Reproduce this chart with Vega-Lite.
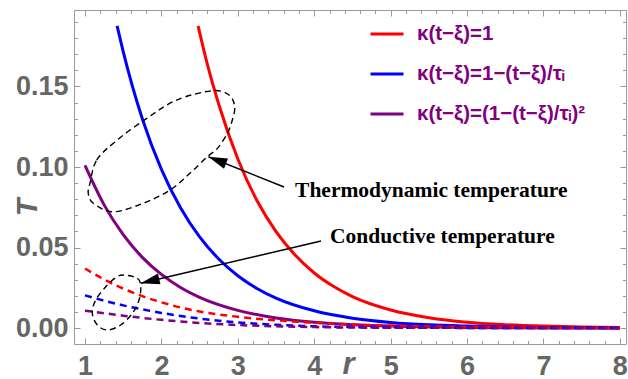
{
  "$schema": "https://vega.github.io/schema/vega-lite/v6.json",
  "width": 552,
  "height": 334,
  "autosize": {"type": "none"},
  "padding": {"left": 74, "top": 10, "right": 2, "bottom": 35},
  "background": "white",
  "config": {
    "view": {"stroke": "#9a9a9a", "strokeWidth": 1},
    "axis": {
      "domain": false, "grid": false,
      "labelFont": "Liberation Sans", "labelFontWeight": "bold", "labelFontSize": 27,
      "labelColor": "#666666", "tickColor": "#9a9a9a", "tickWidth": 1,
      "labelFlush": false, "labelOverlap": false, "labelBound": false,
      "titleColor": "#666666", "titleFont": "Liberation Sans", "titleFontWeight": "bold", "titleFontStyle": "italic"
    },
    "legend": {
      "orient": "none", "legendX": 295, "legendY": 6,
      "symbolType": "stroke", "symbolSize": 1089, "symbolStrokeWidth": 3,
      "labelFont": "Liberation Sans", "labelFontWeight": "bold", "labelFontSize": 20.5,
      "labelColor": "#800080", "labelOffset": 12, "rowPadding": 11, "padding": 0, "labelLimit": 400
    }
  },
  "datasets": {
    "solid": [
      {"s": "κ(t−ξ)=1", "x": 2.48, "y": 0.1876},
      {"s": "κ(t−ξ)=1", "x": 2.6, "y": 0.164},
      {"s": "κ(t−ξ)=1", "x": 2.75, "y": 0.139},
      {"s": "κ(t−ξ)=1", "x": 3.0, "y": 0.105},
      {"s": "κ(t−ξ)=1", "x": 3.25, "y": 0.0792},
      {"s": "κ(t−ξ)=1", "x": 3.5, "y": 0.0599},
      {"s": "κ(t−ξ)=1", "x": 3.75, "y": 0.0453},
      {"s": "κ(t−ξ)=1", "x": 4.0, "y": 0.0342},
      {"s": "κ(t−ξ)=1", "x": 4.25, "y": 0.0259},
      {"s": "κ(t−ξ)=1", "x": 4.5, "y": 0.0195},
      {"s": "κ(t−ξ)=1", "x": 5.0, "y": 0.0112},
      {"s": "κ(t−ξ)=1", "x": 5.5, "y": 0.0064},
      {"s": "κ(t−ξ)=1", "x": 6.0, "y": 0.0036},
      {"s": "κ(t−ξ)=1", "x": 6.5, "y": 0.0021},
      {"s": "κ(t−ξ)=1", "x": 7.0, "y": 0.0012},
      {"s": "κ(t−ξ)=1", "x": 7.5, "y": 0.0007},
      {"s": "κ(t−ξ)=1", "x": 8.0, "y": 0.0004},
      {"s": "κ(t−ξ)=1−(t−ξ)/τᵢ", "x": 1.42, "y": 0.1876},
      {"s": "κ(t−ξ)=1−(t−ξ)/τᵢ", "x": 1.5, "y": 0.1717},
      {"s": "κ(t−ξ)=1−(t−ξ)/τᵢ", "x": 1.75, "y": 0.130},
      {"s": "κ(t−ξ)=1−(t−ξ)/τᵢ", "x": 2.0, "y": 0.0985},
      {"s": "κ(t−ξ)=1−(t−ξ)/τᵢ", "x": 2.25, "y": 0.0747},
      {"s": "κ(t−ξ)=1−(t−ξ)/τᵢ", "x": 2.5, "y": 0.0566},
      {"s": "κ(t−ξ)=1−(t−ξ)/τᵢ", "x": 2.75, "y": 0.0429},
      {"s": "κ(t−ξ)=1−(t−ξ)/τᵢ", "x": 3.0, "y": 0.0325},
      {"s": "κ(t−ξ)=1−(t−ξ)/τᵢ", "x": 3.25, "y": 0.0246},
      {"s": "κ(t−ξ)=1−(t−ξ)/τᵢ", "x": 3.5, "y": 0.0186},
      {"s": "κ(t−ξ)=1−(t−ξ)/τᵢ", "x": 4.0, "y": 0.0107},
      {"s": "κ(t−ξ)=1−(t−ξ)/τᵢ", "x": 4.5, "y": 0.0061},
      {"s": "κ(t−ξ)=1−(t−ξ)/τᵢ", "x": 5.0, "y": 0.0035},
      {"s": "κ(t−ξ)=1−(t−ξ)/τᵢ", "x": 5.5, "y": 0.0020},
      {"s": "κ(t−ξ)=1−(t−ξ)/τᵢ", "x": 6.0, "y": 0.0012},
      {"s": "κ(t−ξ)=1−(t−ξ)/τᵢ", "x": 7.0, "y": 0.0004},
      {"s": "κ(t−ξ)=1−(t−ξ)/τᵢ", "x": 8.0, "y": 0.0001},
      {"s": "κ(t−ξ)=(1−(t−ξ)/τᵢ)²", "x": 1.0, "y": 0.101},
      {"s": "κ(t−ξ)=(1−(t−ξ)/τᵢ)²", "x": 1.25, "y": 0.0765},
      {"s": "κ(t−ξ)=(1−(t−ξ)/τᵢ)²", "x": 1.5, "y": 0.058},
      {"s": "κ(t−ξ)=(1−(t−ξ)/τᵢ)²", "x": 1.75, "y": 0.0439},
      {"s": "κ(t−ξ)=(1−(t−ξ)/τᵢ)²", "x": 2.0, "y": 0.0333},
      {"s": "κ(t−ξ)=(1−(t−ξ)/τᵢ)²", "x": 2.25, "y": 0.0252},
      {"s": "κ(t−ξ)=(1−(t−ξ)/τᵢ)²", "x": 2.5, "y": 0.0191},
      {"s": "κ(t−ξ)=(1−(t−ξ)/τᵢ)²", "x": 3.0, "y": 0.0110},
      {"s": "κ(t−ξ)=(1−(t−ξ)/τᵢ)²", "x": 3.5, "y": 0.0063},
      {"s": "κ(t−ξ)=(1−(t−ξ)/τᵢ)²", "x": 4.0, "y": 0.0036},
      {"s": "κ(t−ξ)=(1−(t−ξ)/τᵢ)²", "x": 4.5, "y": 0.0021},
      {"s": "κ(t−ξ)=(1−(t−ξ)/τᵢ)²", "x": 5.0, "y": 0.0012},
      {"s": "κ(t−ξ)=(1−(t−ξ)/τᵢ)²", "x": 6.0, "y": 0.0004},
      {"s": "κ(t−ξ)=(1−(t−ξ)/τᵢ)²", "x": 7.0, "y": 0.0001},
      {"s": "κ(t−ξ)=(1−(t−ξ)/τᵢ)²", "x": 8.0, "y": 0.0}
    ],
    "dashed": [
      {"s": "κ(t−ξ)=1", "x": 1.0, "y": 0.037},
      {"s": "κ(t−ξ)=1", "x": 1.25, "y": 0.0302},
      {"s": "κ(t−ξ)=1", "x": 1.5, "y": 0.0245},
      {"s": "κ(t−ξ)=1", "x": 1.75, "y": 0.0198},
      {"s": "κ(t−ξ)=1", "x": 2.0, "y": 0.0160},
      {"s": "κ(t−ξ)=1", "x": 2.25, "y": 0.0128},
      {"s": "κ(t−ξ)=1", "x": 2.5, "y": 0.0103},
      {"s": "κ(t−ξ)=1", "x": 3.0, "y": 0.0070},
      {"s": "κ(t−ξ)=1", "x": 3.5, "y": 0.0048},
      {"s": "κ(t−ξ)=1", "x": 4.0, "y": 0.0033},
      {"s": "κ(t−ξ)=1", "x": 4.5, "y": 0.0022},
      {"s": "κ(t−ξ)=1", "x": 5.0, "y": 0.0015},
      {"s": "κ(t−ξ)=1", "x": 5.5, "y": 0.0010},
      {"s": "κ(t−ξ)=1", "x": 6.0, "y": 0.0007},
      {"s": "κ(t−ξ)=1", "x": 7.0, "y": 0.0003},
      {"s": "κ(t−ξ)=1", "x": 8.0, "y": 0.0001},
      {"s": "κ(t−ξ)=1−(t−ξ)/τᵢ", "x": 1.0, "y": 0.0203},
      {"s": "κ(t−ξ)=1−(t−ξ)/τᵢ", "x": 1.25, "y": 0.0170},
      {"s": "κ(t−ξ)=1−(t−ξ)/τᵢ", "x": 1.5, "y": 0.0141},
      {"s": "κ(t−ξ)=1−(t−ξ)/τᵢ", "x": 1.75, "y": 0.0116},
      {"s": "κ(t−ξ)=1−(t−ξ)/τᵢ", "x": 2.0, "y": 0.0094},
      {"s": "κ(t−ξ)=1−(t−ξ)/τᵢ", "x": 2.25, "y": 0.0075},
      {"s": "κ(t−ξ)=1−(t−ξ)/τᵢ", "x": 2.5, "y": 0.0059},
      {"s": "κ(t−ξ)=1−(t−ξ)/τᵢ", "x": 3.0, "y": 0.0035},
      {"s": "κ(t−ξ)=1−(t−ξ)/τᵢ", "x": 3.5, "y": 0.0020},
      {"s": "κ(t−ξ)=1−(t−ξ)/τᵢ", "x": 4.0, "y": 0.0011},
      {"s": "κ(t−ξ)=1−(t−ξ)/τᵢ", "x": 4.5, "y": 0.0006},
      {"s": "κ(t−ξ)=1−(t−ξ)/τᵢ", "x": 5.0, "y": 0.0003},
      {"s": "κ(t−ξ)=1−(t−ξ)/τᵢ", "x": 6.0, "y": 0.0001},
      {"s": "κ(t−ξ)=1−(t−ξ)/τᵢ", "x": 7.0, "y": 0.0},
      {"s": "κ(t−ξ)=1−(t−ξ)/τᵢ", "x": 8.0, "y": 0.0},
      {"s": "κ(t−ξ)=(1−(t−ξ)/τᵢ)²", "x": 1.0, "y": 0.0108},
      {"s": "κ(t−ξ)=(1−(t−ξ)/τᵢ)²", "x": 1.25, "y": 0.0092},
      {"s": "κ(t−ξ)=(1−(t−ξ)/τᵢ)²", "x": 1.5, "y": 0.0077},
      {"s": "κ(t−ξ)=(1−(t−ξ)/τᵢ)²", "x": 1.75, "y": 0.0063},
      {"s": "κ(t−ξ)=(1−(t−ξ)/τᵢ)²", "x": 2.0, "y": 0.0051},
      {"s": "κ(t−ξ)=(1−(t−ξ)/τᵢ)²", "x": 2.5, "y": 0.0032},
      {"s": "κ(t−ξ)=(1−(t−ξ)/τᵢ)²", "x": 3.0, "y": 0.0019},
      {"s": "κ(t−ξ)=(1−(t−ξ)/τᵢ)²", "x": 3.5, "y": 0.0011},
      {"s": "κ(t−ξ)=(1−(t−ξ)/τᵢ)²", "x": 4.0, "y": 0.0006},
      {"s": "κ(t−ξ)=(1−(t−ξ)/τᵢ)²", "x": 5.0, "y": 0.0002},
      {"s": "κ(t−ξ)=(1−(t−ξ)/τᵢ)²", "x": 6.0, "y": 0.0001},
      {"s": "κ(t−ξ)=(1−(t−ξ)/τᵢ)²", "x": 7.0, "y": 0.0},
      {"s": "κ(t−ξ)=(1−(t−ξ)/τᵢ)²", "x": 8.0, "y": 0.0}
    ],
    "ellipses": [
      {"e": "big", "k": 1, "x": 1.065, "y": 0.0899},
      {"e": "big", "k": 2, "x": 1.153, "y": 0.1043},
      {"e": "big", "k": 3, "x": 1.415, "y": 0.1165},
      {"e": "big", "k": 4, "x": 1.808, "y": 0.1302},
      {"e": "big", "k": 5, "x": 2.2, "y": 0.1416},
      {"e": "big", "k": 6, "x": 2.666, "y": 0.1474},
      {"e": "big", "k": 7, "x": 2.885, "y": 0.1447},
      {"e": "big", "k": 8, "x": 2.959, "y": 0.1375},
      {"e": "big", "k": 9, "x": 2.928, "y": 0.1292},
      {"e": "big", "k": 10, "x": 2.863, "y": 0.1209},
      {"e": "big", "k": 11, "x": 2.732, "y": 0.1116},
      {"e": "big", "k": 12, "x": 2.601, "y": 0.1064},
      {"e": "big", "k": 13, "x": 2.374, "y": 0.0961},
      {"e": "big", "k": 14, "x": 2.113, "y": 0.0857},
      {"e": "big", "k": 15, "x": 1.763, "y": 0.0775},
      {"e": "big", "k": 16, "x": 1.37, "y": 0.0722},
      {"e": "big", "k": 17, "x": 1.109, "y": 0.0775},
      {"e": "big", "k": 18, "x": 1.043, "y": 0.0837},
      {"e": "small", "k": 1, "x": 1.51, "y": 0.0329},
      {"e": "small", "k": 2, "x": 1.685, "y": 0.0309},
      {"e": "small", "k": 3, "x": 1.729, "y": 0.0257},
      {"e": "small", "k": 4, "x": 1.707, "y": 0.0174},
      {"e": "small", "k": 5, "x": 1.619, "y": 0.0091},
      {"e": "small", "k": 6, "x": 1.467, "y": 0.0019},
      {"e": "small", "k": 7, "x": 1.292, "y": -0.0012},
      {"e": "small", "k": 8, "x": 1.161, "y": 0.0019},
      {"e": "small", "k": 9, "x": 1.096, "y": 0.0091},
      {"e": "small", "k": 10, "x": 1.14, "y": 0.0174},
      {"e": "small", "k": 11, "x": 1.292, "y": 0.0267},
      {"e": "small", "k": 12, "x": 1.423, "y": 0.0319}
    ],
    "arrows": [
      {"a": "thermo", "k": 0, "x": 3.605, "y": 0.0876},
      {"a": "thermo", "k": 1, "x": 2.614, "y": 0.1064},
      {"a": "cond", "k": 0, "x": 4.089, "y": 0.054},
      {"a": "cond", "k": 1, "x": 1.729, "y": 0.0278}
    ],
    "head1": [{"x": 2.614, "y": 0.1064}],
    "head2": [{"x": 1.729, "y": 0.0278}],
    "notes": [
      {"t": "Thermodynamic temperature", "x": 3.749, "y": 0.0816},
      {"t": "Conductive temperature", "x": 4.207, "y": 0.053}
    ]
  },
  "layer": [
    {
      "data": {"name": "solid"},
      "mark": {"type": "line", "strokeWidth": 3, "interpolate": "monotone", "clip": true},
      "encoding": {
        "x": {"field": "x", "type": "quantitative",
          "scale": {"domain": [0.856, 8.08], "nice": false, "zero": false},
          "axis": {"orient": "bottom", "values": [1, 2, 3, 4, 5, 6, 7, 8], "format": "d", "tickSize": -6, "labelPadding": 15,
            "title": "r", "titleX": 274, "titleY": 29, "titleBaseline": "alphabetic", "titleAlign": "center", "titleFontSize": 31}},
        "y": {"field": "y", "type": "quantitative",
          "scale": {"domain": [-0.0099, 0.1975], "nice": false, "zero": false},
          "axis": {"orient": "left", "values": [0, 0.05, 0.1, 0.15], "format": ".2f", "tickSize": -6, "labelPadding": 12,
            "title": "T", "titleX": -47, "titleY": 197, "titleAngle": 270, "titleBaseline": "middle", "titleAlign": "center", "titleFontSize": 29}},
        "color": {"field": "s", "type": "nominal",
          "scale": {"domain": ["κ(t−ξ)=1", "κ(t−ξ)=1−(t−ξ)/τᵢ", "κ(t−ξ)=(1−(t−ξ)/τᵢ)²"], "range": ["#ff0000", "#0000ff", "#800080"]},
          "legend": {"title": null}}
      }
    },
    {
      "data": {"name": "dashed"},
      "mark": {"type": "line", "strokeWidth": 2.5, "strokeDash": [7, 5], "interpolate": "monotone", "clip": true},
      "encoding": {
        "x": {"field": "x", "type": "quantitative",
          "axis": {"orient": "bottom", "values": [1.2, 1.4, 1.6, 1.8, 2.2, 2.4, 2.6, 2.8, 3.2, 3.4, 3.6, 3.8, 4.2, 4.4, 4.6, 4.8, 5.2, 5.4, 5.6, 5.8, 6.2, 6.4, 6.6, 6.8, 7.2, 7.4, 7.6, 7.8], "tickSize": -3.5, "labels": false, "title": null}},
        "y": {"field": "y", "type": "quantitative",
          "axis": {"orient": "left", "values": [0.01, 0.02, 0.03, 0.04, 0.06, 0.07, 0.08, 0.09, 0.11, 0.12, 0.13, 0.14, 0.16, 0.17, 0.18, 0.19], "tickSize": -3.5, "labels": false, "title": null}},
        "color": {"field": "s", "type": "nominal", "legend": null}
      }
    },
    {
      "data": {"name": "ellipses"},
      "mark": {"type": "line", "strokeWidth": 1.4, "strokeDash": [6, 4], "color": "black", "interpolate": "cardinal-closed"},
      "encoding": {
        "x": {"field": "x", "type": "quantitative",
          "axis": {"orient": "top", "values": [1, 2, 3, 4, 5, 6, 7, 8], "tickSize": -6, "labels": false, "title": null}},
        "y": {"field": "y", "type": "quantitative",
          "axis": {"orient": "right", "values": [0, 0.05, 0.1, 0.15], "tickSize": -6, "labels": false, "title": null}},
        "detail": {"field": "e"},
        "order": {"field": "k", "type": "quantitative"}
      }
    },
    {
      "data": {"name": "arrows"},
      "mark": {"type": "line", "strokeWidth": 1.5, "color": "black"},
      "encoding": {
        "x": {"field": "x", "type": "quantitative",
          "axis": {"orient": "top", "values": [1.2, 1.4, 1.6, 1.8, 2.2, 2.4, 2.6, 2.8, 3.2, 3.4, 3.6, 3.8, 4.2, 4.4, 4.6, 4.8, 5.2, 5.4, 5.6, 5.8, 6.2, 6.4, 6.6, 6.8, 7.2, 7.4, 7.6, 7.8], "tickSize": -3.5, "labels": false, "title": null}},
        "y": {"field": "y", "type": "quantitative",
          "axis": {"orient": "right", "values": [0.01, 0.02, 0.03, 0.04, 0.06, 0.07, 0.08, 0.09, 0.11, 0.12, 0.13, 0.14, 0.16, 0.17, 0.18, 0.19], "tickSize": -3.5, "labels": false, "title": null}},
        "detail": {"field": "a"},
        "order": {"field": "k", "type": "quantitative"}
      }
    },
    {
      "data": {"name": "head1"},
      "mark": {"type": "point", "shape": "M0,0L-0.55,1.9L0.55,1.9Z", "size": 400, "filled": true, "color": "black", "opacity": 1, "angle": 291.5},
      "encoding": {
        "x": {"field": "x", "type": "quantitative", "axis": null},
        "y": {"field": "y", "type": "quantitative", "axis": null}
      }
    },
    {
      "data": {"name": "head2"},
      "mark": {"type": "point", "shape": "M0,0L-0.55,1.9L0.55,1.9Z", "size": 400, "filled": true, "color": "black", "opacity": 1, "angle": 256.8},
      "encoding": {
        "x": {"field": "x", "type": "quantitative", "axis": null},
        "y": {"field": "y", "type": "quantitative", "axis": null}
      }
    },
    {
      "data": {"name": "notes"},
      "mark": {"type": "text", "align": "left", "baseline": "alphabetic", "font": "Liberation Serif", "fontWeight": "bold", "fontSize": 21.5, "color": "black"},
      "encoding": {
        "x": {"field": "x", "type": "quantitative", "axis": null},
        "y": {"field": "y", "type": "quantitative", "axis": null},
        "text": {"field": "t"}
      }
    }
  ],
  "resolve": {"scale": {"x": "shared", "y": "shared"}, "axis": {"x": "independent", "y": "independent"}}
}
